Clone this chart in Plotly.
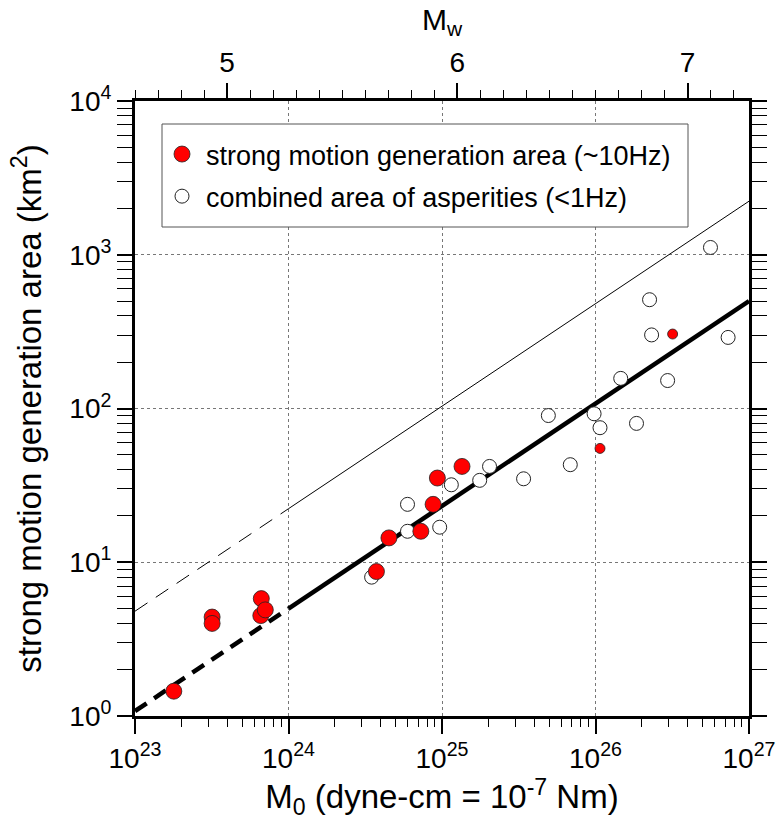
import plotly.graph_objects as go

# ---- data (M0 in dyne-cm, area in km^2) ----
smga_m0 = [1.79e23, 3.18e23, 3.18e23, 6.65e23, 6.6e23, 7.06e23,
           3.74e24, 4.51e24, 7.28e24, 8.75e24, 9.33e24, 1.35e25]
smga_area = [1.45, 4.4, 4.0, 5.8, 4.5, 4.9,
             8.7, 14.4, 15.9, 23.8, 35.3, 42.0]

smga_small_m0 = [1.07e26, 3.18e26]
smga_small_area = [55.0, 305.0]

asp_m0 = [3.48e24, 5.96e24, 5.96e24, 9.66e24, 1.15e25, 1.76e25, 2.04e25,
          3.40e25, 6.85e25, 4.93e25, 9.79e25, 1.07e26, 1.85e26, 1.46e26,
          2.95e26, 2.25e26, 2.32e26, 5.61e26, 7.31e26]
asp_area = [8.0, 15.9, 23.8, 16.9, 31.9, 34.1, 42.0,
            34.9, 43.1, 90.0, 92.4, 75.0, 80.0, 157.0,
            152.0, 510.0, 301.0, 1115.0, 290.0]

# Somerville-type scaling relations: A = c * M0^(2/3)
line_exponent = 2.0 / 3.0
coef_asperity = 5.00e-16
coef_rupture = 2.23e-15
line_m0_dashed = [1e23, 1e24]
line_m0_solid = [1e24, 1e27]

# axis ticks
x_exponents = [23, 24, 25, 26, 27]
y_exponents = [0, 1, 2, 3, 4]
mw_ticks = [5, 6, 7]
# Mw = (log10 M0 - 16.1) / 1.5
mw_range = [(23 - 16.1) / 1.5, (27 - 16.1) / 1.5]


def scaling(coef, m0):
    return [coef * m ** line_exponent for m in m0]


FONT = "Liberation Sans, Arial, Helvetica, sans-serif"

# plot area in pixels (for the legend box)
W, H = 777, 823
ML, MR, MT, MB = 135, 28, 101, 107
PW, PH = W - ML - MR, H - MT - MB


def px_to_paper(x, y):
    return (x - ML) / PW, (H - MB - y) / PH


fig = go.Figure()

# scaling lines
fig.add_trace(go.Scatter(x=line_m0_dashed, y=scaling(coef_rupture, line_m0_dashed),
                         mode="lines", line=dict(color="black", width=1, dash="15px,10px"),
                         showlegend=False, hoverinfo="skip"))
fig.add_trace(go.Scatter(x=line_m0_solid, y=scaling(coef_rupture, line_m0_solid),
                         mode="lines", line=dict(color="black", width=1),
                         showlegend=False, hoverinfo="skip"))
fig.add_trace(go.Scatter(x=line_m0_dashed, y=scaling(coef_asperity, line_m0_dashed),
                         mode="lines", line=dict(color="black", width=4.5, dash="14px,9px"),
                         showlegend=False, hoverinfo="skip"))
fig.add_trace(go.Scatter(x=line_m0_solid, y=scaling(coef_asperity, line_m0_solid),
                         mode="lines", line=dict(color="black", width=4.5),
                         showlegend=False, hoverinfo="skip"))

# combined area of asperities (open circles)
fig.add_trace(go.Scatter(x=asp_m0, y=asp_area, mode="markers",
                         name="combined area of asperities (<1Hz)",
                         legendgroup="b", legendrank=2,
                         marker=dict(size=14, color="white",
                                     line=dict(color="#222222", width=1))))

# strong motion generation area (red circles)
fig.add_trace(go.Scatter(x=smga_m0, y=smga_area, mode="markers",
                         name="strong motion generation area (~10Hz)",
                         legendgroup="a", legendrank=1,
                         marker=dict(size=16, color="#ff0000",
                                     line=dict(color="#222222", width=0.8))))
fig.add_trace(go.Scatter(x=smga_small_m0, y=smga_small_area, mode="markers",
                         showlegend=False, legendgroup="a",
                         marker=dict(size=10, color="#ff0000",
                                     line=dict(color="#222222", width=0.8))))

# dummy trace for the top Mw axis
fig.add_trace(go.Scatter(x=[], y=[], xaxis="x2", showlegend=False))

# legend frame
bx0, by0 = px_to_paper(162, 227)
bx1, by1 = px_to_paper(688, 124)
fig.add_shape(type="rect", xref="paper", yref="paper", x0=bx0, y0=by0, x1=bx1, y1=by1,
              line=dict(color="#555555", width=1), fillcolor="white", layer="above")

lx, ly = px_to_paper(158, 130)

common_axis = dict(showline=True, linewidth=3, linecolor="black",
                   ticks="outside", ticklen=15, tickwidth=1.5, tickcolor="black",
                   tickfont=dict(size=28), zeroline=False, automargin=False)

fig.update_layout(
    width=W, height=H,
    margin=dict(l=ML, r=MR, t=MT, b=MB, autoexpand=False),
    paper_bgcolor="white", plot_bgcolor="white",
    font=dict(family=FONT, size=28, color="black"),
    showlegend=True,
    legend=dict(x=lx, y=ly, xanchor="left", yanchor="top",
                bgcolor="rgba(0,0,0,0)", borderwidth=0,
                font=dict(size=27), itemsizing="trace", itemwidth=38,
                traceorder="grouped", tracegroupgap=4),
    xaxis=dict(type="log", range=[23, 27], mirror=True,
               tickmode="array", tickvals=[10.0 ** e for e in x_exponents],
               ticktext=["10<sup>%d</sup>" % e for e in x_exponents],
               showgrid=True, gridcolor="#777777", gridwidth=1, griddash="dot",
               minor=dict(ticks="outside", ticklen=8, tickwidth=1.2,
                          tickcolor="black", dtick="D1", showgrid=False),
               title=dict(text="M<sub>0</sub> (dyne-cm = 10<sup>-7</sup> Nm)",
                          font=dict(size=33), standoff=8),
               **common_axis),
    xaxis2=dict(overlaying="x", side="top", anchor="y", range=mw_range,
                tickmode="array", tickvals=mw_ticks,
                showgrid=False,
                minor=dict(ticks="outside", ticklen=8, tickwidth=1.2,
                           tickcolor="black", dtick=0.1, tick0=5, showgrid=False),
                title=dict(text="M<sub>w</sub>", font=dict(size=30), standoff=8),
                **common_axis),
    yaxis=dict(type="log", range=[0, 4], mirror="allticks",
               tickmode="array", tickvals=[10.0 ** e for e in y_exponents],
               ticktext=["10<sup>%d</sup>" % e for e in y_exponents],
               showgrid=True, gridcolor="#777777", gridwidth=1, griddash="dot",
               minor=dict(ticks="outside", ticklen=8, tickwidth=1.2,
                          tickcolor="black", dtick="D1", showgrid=False),
               title=dict(text="strong motion generation area (km<sup>2</sup>)",
                          font=dict(size=33), standoff=18),
               **common_axis),
)

fig.write_html("out.html")
